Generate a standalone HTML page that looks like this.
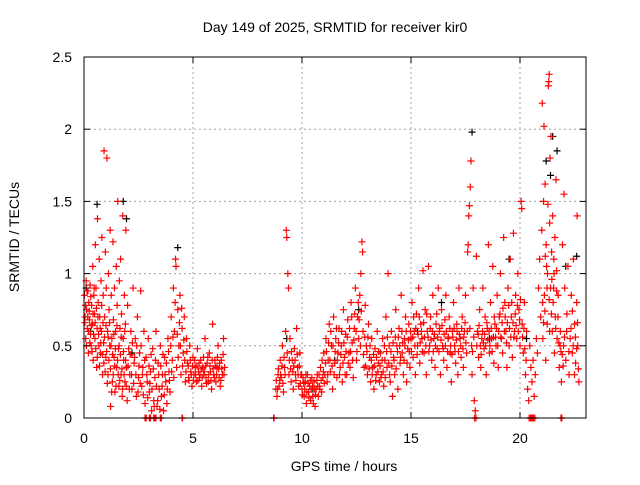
<!DOCTYPE html>
<html><head><meta charset="utf-8"><style>
body{margin:0;background:#fff;font-family:"Liberation Sans",sans-serif}
svg text{font-family:"Liberation Sans",sans-serif;font-size:14px;fill:#000}
</style></head><body>
<svg width="640" height="480" xmlns="http://www.w3.org/2000/svg">
<rect width="640" height="480" fill="#fff"/>
<g id="grid"></g>
<g id="black"></g>
<g id="red"></g>
<rect x="84" y="57" width="502" height="361" fill="none" stroke="#000" stroke-width="1"/>
<g id="axes"></g>
<text x="335" y="32" text-anchor="middle">Day 149 of 2025, SRMTID for receiver kir0</text>
<text x="344" y="471" text-anchor="middle">GPS time / hours</text>
<text transform="translate(19,237) rotate(-90)" text-anchor="middle">SRMTID / TECUs</text>
</svg>
<script>
const xTicks=[0,5,10,15,20];
const yTicks=[0,0.5,1,1.5,2,2.5];
const yTickLabels=["0","0.5","1","1.5","2","2.5"];
const redPoints=[
[0.02,0.85],[0.05,0.7],[0.08,0.55],[0.1,0.95],[0.12,0.75],[0.15,0.62],[0.18,0.88],[0.2,0.45],[0.22,0.8],[0.25,0.68],[0.28,0.92],[0.3,0.58],[0.33,0.5],[0.35,0.78],[0.38,0.65],[0.4,1.05],[0.42,0.4],[0.45,0.85],[0.48,0.72],[0.5,0.55],[0.52,1.2],[0.55,0.9],[0.58,0.35],[0.6,0.62],[0.62,1.38],[0.65,0.8],[0.68,0.5],[0.7,1.1],[0.72,0.7],[0.75,0.45],[0.78,0.95],[0.8,0.6],[0.82,1.25],[0.85,0.3],[0.88,0.85],[0.9,0.52],[0.92,1.85],[0.95,0.7],[0.98,1.15],[1.0,0.42],[1.02,0.9],[1.05,1.8],[1.08,0.6],[1.1,0.3],[1.12,1.0],[1.15,0.75],[1.18,0.5],[1.2,1.3],[1.22,0.08],[1.25,0.85],[1.28,0.55],[1.3,0.25],[1.33,1.22],[1.35,0.68],[1.38,0.42],[1.4,0.9],[1.42,0.18],[1.45,0.6],[1.48,1.05],[1.5,0.35],[1.52,0.78],[1.55,1.5],[1.58,0.48],[1.6,0.22],[1.62,0.95],[1.65,0.62],[1.68,1.1],[1.7,0.3],[1.72,0.72],[1.75,0.15],[1.78,1.4],[1.8,0.55],[1.82,0.4],[1.85,0.85],[1.88,0.25],[1.9,0.65],[1.92,1.3],[1.95,0.35],[1.98,0.12],[2.0,0.78],[2.05,0.48],[2.1,0.3],[2.15,0.6],[2.2,0.2],[2.25,0.9],[2.3,0.38],[2.35,0.55],[2.4,0.15],[2.45,0.7],[2.5,0.28],[2.55,0.45],[2.6,0.88],[2.65,0.22],[2.7,0.35],[2.75,0.6],[2.8,0.1],[2.85,0.42],[2.9,0.25],[2.95,0.55],[3.0,0.18],[3.05,0.32],[3.1,0.05],[3.15,0.48],[3.2,0.12],[3.25,0.28],[3.3,0.6],[3.35,0.08],[3.4,0.38],[3.45,0.2],[3.5,0.5],[3.55,0.15],[3.6,0.3],[3.65,0.05],[3.7,0.42],[3.75,0.25],[3.8,0.1],[3.85,0.55],[3.9,0.32],[3.95,0.18],[4.0,0.7],[4.05,0.4],[4.1,0.9],[4.15,0.6],[4.2,1.1],[4.22,1.05],[4.25,0.35],[4.3,0.75],[4.35,0.5],[4.4,0.85],[4.45,0.3],[4.5,0.62],[4.55,0.45],[4.6,0.7],[4.65,0.25],[4.7,0.55],[4.75,0.38],[4.8,0.28],[4.85,0.5],[4.9,0.32],[4.95,0.22],[5.0,0.42],[5.05,0.3],[5.1,0.35],[5.15,0.25],[5.2,0.48],[5.25,0.32],[5.3,0.28],[5.35,0.4],[5.4,0.22],[5.45,0.35],[5.5,0.3],[5.55,0.55],[5.6,0.28],[5.65,0.38],[5.7,0.25],[5.75,0.45],[5.8,0.32],[5.85,0.2],[5.9,0.65],[5.95,0.3],[6.0,0.4],[6.05,0.25],[6.1,0.35],[6.15,0.5],[6.2,0.28],[6.25,0.22],[6.3,0.4],[6.35,0.3],[6.4,0.55],[6.45,0.35],
[8.8,0.2],[8.85,0.15],[8.9,0.3],[8.95,0.22],[9.0,0.4],[9.05,0.28],[9.1,0.5],[9.15,0.18],[9.2,0.35],[9.25,0.6],[9.28,1.3],[9.3,1.25],[9.32,0.45],[9.35,1.0],[9.38,0.9],[9.4,0.3],[9.45,0.55],[9.5,0.25],[9.55,0.4],[9.6,0.2],[9.65,0.48],[9.7,0.3],[9.75,0.62],[9.8,0.35],[9.85,0.22],[9.9,0.45],[9.95,0.3],[10.0,0.2],[10.05,0.28],[10.1,0.15],[10.15,0.25],[10.2,0.1],[10.25,0.3],[10.3,0.18],[10.35,0.22],[10.4,0.12],[10.45,0.28],[10.5,0.15],[10.55,0.25],[10.6,0.08],[10.65,0.2],[10.7,0.3],[10.75,0.15],[10.8,0.22],[10.85,0.35],[10.9,0.18],[10.95,0.28],[11.0,0.45],[11.05,0.3],[11.1,0.55],[11.15,0.25],[11.2,0.4],[11.25,0.65],[11.3,0.32],[11.35,0.5],[11.4,0.2],[11.45,0.7],[11.5,0.38],[11.55,0.55],[11.6,0.28],[11.65,0.45],[11.7,0.62],[11.75,0.35],[11.8,0.5],[11.85,0.25],[11.9,0.75],[11.95,0.42],[12.0,0.58],[12.05,0.3],[12.1,0.68],[12.15,0.45],[12.2,0.35],[12.25,0.8],[12.3,0.52],[12.35,0.28],[12.4,0.62],[12.45,0.9],[12.5,0.4],[12.55,0.7],[12.6,0.55],[12.65,0.85],[12.7,1.0],[12.75,1.22],[12.78,1.15],[12.8,0.6],[12.85,0.35],[12.9,0.78],[12.95,0.5],[13.0,0.3],[13.05,0.65],[13.1,0.42],[13.15,0.25],[13.2,0.55],[13.25,0.35],[13.3,0.2],[13.35,0.48],[13.4,0.3],[13.45,0.6],[13.5,0.38],[13.55,0.25],[13.6,0.45],[13.65,0.3],[13.7,0.55],[13.75,0.22],[13.8,0.4],[13.85,0.7],[13.9,0.35],[13.95,1.0],[14.0,0.5],[14.05,0.25],[14.1,0.6],[14.15,0.15],[14.2,0.42],[14.25,0.3],[14.3,0.75],[14.35,0.5],[14.4,0.2],[14.45,0.62],[14.5,0.38],[14.55,0.85],[14.6,0.45],[14.65,0.3],[14.7,0.55],[14.75,0.7],[14.8,0.25],[14.85,0.48],[14.9,0.65],[14.95,0.35],[15.0,0.55],[15.05,0.8],[15.1,0.42],[15.15,0.6],[15.2,0.3],[15.25,0.72],[15.3,0.5],[15.35,0.9],[15.4,0.38],[15.45,0.65],[15.5,0.55],[15.55,1.02],[15.6,0.45],[15.65,0.75],[15.7,0.3],[15.75,0.6],[15.8,1.05],[15.85,0.5],[15.9,0.7],[15.95,0.4],[16.0,0.85],[16.05,0.55],[16.1,0.35],[16.15,0.65],[16.2,0.48],[16.25,0.9],[16.3,0.6],[16.35,0.3],[16.4,0.75],[16.45,0.5],[16.5,0.4],[16.55,0.68],[16.6,0.85],[16.65,0.35],[16.7,0.55],[16.75,0.7],[16.8,0.45],[16.85,0.25],[16.9,0.6],[16.95,0.8],[17.0,0.5],[17.05,0.38],[17.1,0.65],[17.15,0.3],[17.2,0.9],[17.25,0.55],[17.3,0.42],[17.35,0.7],[17.4,0.35],[17.45,0.6],[17.5,0.85],[17.55,0.45],[17.6,1.15],[17.62,1.2],[17.65,1.4],[17.68,1.47],[17.7,0.62],[17.72,1.6],[17.75,1.78],[17.78,0.5],[17.8,0.3],[17.85,0.9],[17.9,0.12],[17.95,0.05],[18.0,1.12],[18.05,0.6],[18.1,0.42],[18.15,0.75],[18.2,0.35],[18.25,0.55],[18.3,0.9],[18.35,0.48],[18.4,0.7],[18.45,0.3],[18.5,0.62],[18.55,1.2],[18.6,0.45],[18.65,0.8],[18.7,0.55],[18.75,1.05],[18.8,0.38],[18.85,0.65],[18.9,0.5],[18.95,0.85],[19.0,0.35],[19.05,0.7],[19.1,1.0],[19.15,0.55],[19.2,0.45],[19.25,1.25],[19.3,0.8],[19.35,0.6],[19.4,0.35],[19.45,0.9],[19.5,0.5],[19.55,1.1],[19.6,0.7],[19.65,0.42],[19.7,1.28],[19.75,0.6],[19.8,0.85],[19.85,0.55],[19.9,1.0],[19.95,0.75],[20.0,0.5],[20.05,1.5],[20.08,1.45],[20.1,0.65],[20.15,0.45],[20.2,0.8],[20.25,0.3],[20.3,0.6],[20.35,0.2],[20.4,0.12],[20.45,0.5],[20.5,0.35],[20.55,0.25],[20.6,0.4],[20.65,0.15],[20.7,0.3],[20.75,0.55],[20.8,0.45],[20.85,0.9],[20.9,1.1],[20.95,0.7],[21.0,1.3],[21.02,2.18],[21.05,0.55],[21.08,1.5],[21.1,2.02],[21.12,0.85],[21.15,1.62],[21.18,0.4],[21.2,1.2],[21.22,1.05],[21.25,0.65],[21.28,1.48],[21.3,2.3],[21.32,2.33],[21.34,2.38],[21.36,1.35],[21.38,1.8],[21.4,0.9],[21.42,1.95],[21.45,1.15],[21.48,0.6],[21.5,1.4],[21.52,0.8],[21.55,1.1],[21.58,0.45],[21.6,1.25],[21.62,0.7],[21.65,1.65],[21.68,1.02],[21.7,0.55],[21.75,0.85],[21.8,0.35],[21.85,0.6],[21.9,0.25],[21.95,1.2],[22.0,0.5],[22.02,1.55],[22.05,0.9],[22.1,0.4],[22.15,0.72],[22.2,1.05],[22.25,0.3],[22.3,0.55],[22.35,0.85],[22.4,0.45],[22.45,1.1],[22.5,0.65],[22.55,0.38],[22.6,0.8],[22.62,1.4],[22.65,0.5],[22.7,0.25]
];
const redPointsDense=[
[0.04,0.66],[0.07,0.78],[0.11,0.5],[0.14,0.88],[0.17,0.7],[0.21,0.6],[0.24,0.74],[0.27,0.52],[0.31,0.84],[0.34,0.64],[0.37,0.46],[0.41,0.72],[0.44,0.58],[0.47,0.9],[0.51,0.66],[0.54,0.48],[0.57,0.76],[0.61,0.42],[0.64,0.7],[0.67,0.58],[0.71,0.36],[0.74,0.62],[0.77,0.52],[0.81,0.78],[0.84,0.44],[0.87,0.66],[0.91,0.38],[0.94,0.56],[0.97,0.32],[1.01,0.64],[1.04,0.46],[1.07,0.24],[1.11,0.56],[1.14,0.4],[1.17,0.66],[1.21,0.34],[1.24,0.5],[1.27,0.18],[1.31,0.44],[1.34,0.3],[1.37,0.58],[1.41,0.36],[1.44,0.48],[1.47,0.22],[1.51,0.64],[1.54,0.4],[1.57,0.3],[1.61,0.5],[1.64,0.26],[1.67,0.44],[1.71,0.56],[1.74,0.34],[1.77,0.2],[1.81,0.46],[1.84,0.3],[1.87,0.6],[1.91,0.4],[1.94,0.22],[2.02,0.36],[2.08,0.2],[2.12,0.44],[2.18,0.3],[2.22,0.52],[2.28,0.24],[2.32,0.42],[2.38,0.3],[2.42,0.5],[2.48,0.18],[2.52,0.36],[2.58,0.24],[2.62,0.5],[2.68,0.3],[2.72,0.16],[2.78,0.4],[2.88,0.3],[2.92,0.14],[2.98,0.36],[3.02,0.24],[3.08,0.44],[3.12,0.2],[3.18,0.34],[3.22,0.08],[3.28,0.4],[3.32,0.22],[3.38,0.12],[3.42,0.3],[3.48,0.06],[3.52,0.36],[3.58,0.22],[3.62,0.44],[3.68,0.16],[3.72,0.3],[3.78,0.38],[3.82,0.2],[3.88,0.46],[3.92,0.26],[3.98,0.5],[4.02,0.32],[4.08,0.56],[4.12,0.28],[4.18,0.8],[4.28,0.58],[4.32,0.42],[4.38,0.66],[4.42,0.5],[4.48,0.76],[4.52,0.36],[4.58,0.54],[4.62,0.4],[4.68,0.32],[4.72,0.46],[4.78,0.36],[4.82,0.26],[4.88,0.4],[4.92,0.3],[4.98,0.36],[5.02,0.26],[5.08,0.4],[5.12,0.3],[5.18,0.36],[5.22,0.26],[5.28,0.38],[5.32,0.3],[5.38,0.34],[5.42,0.28],[5.48,0.42],[5.52,0.32],[5.58,0.36],[5.62,0.24],[5.68,0.42],[5.72,0.3],[5.78,0.36],[5.82,0.26],[5.88,0.4],[5.92,0.34],[5.98,0.28],[6.02,0.36],[6.08,0.3],[6.12,0.42],[6.18,0.34],[6.22,0.38],[6.28,0.26],[6.32,0.34],[6.38,0.44],[6.42,0.3],
[8.82,0.26],[8.88,0.2],[8.92,0.34],[8.98,0.26],[9.02,0.3],[9.08,0.36],[9.12,0.24],[9.18,0.42],[9.22,0.3],[9.42,0.4],[9.48,0.34],[9.52,0.46],[9.58,0.32],[9.62,0.36],[9.68,0.4],[9.72,0.26],[9.78,0.44],[9.82,0.3],[9.88,0.36],[9.92,0.24],[9.98,0.3],[10.02,0.16],[10.08,0.24],[10.12,0.2],[10.18,0.3],[10.22,0.18],[10.28,0.24],[10.32,0.14],[10.38,0.26],[10.42,0.2],[10.48,0.22],[10.52,0.1],[10.58,0.2],[10.62,0.16],[10.68,0.26],[10.72,0.22],[10.78,0.3],[10.82,0.2],[10.88,0.26],[10.92,0.4],[10.98,0.32],[11.02,0.24],[11.08,0.38],[11.12,0.46],[11.18,0.3],[11.22,0.52],[11.28,0.4],[11.32,0.6],[11.38,0.36],[11.42,0.5],[11.48,0.3],[11.52,0.46],[11.58,0.62],[11.62,0.4],[11.68,0.52],[11.72,0.3],[11.78,0.44],[11.82,0.6],[11.88,0.38],[11.92,0.52],[11.98,0.3],[12.02,0.46],[12.08,0.56],[12.12,0.38],[12.18,0.62],[12.22,0.46],[12.28,0.7],[12.32,0.4],[12.38,0.54],[12.42,0.72],[12.48,0.6],[12.52,0.46],[12.58,0.8],[12.62,0.68],[12.68,0.5],[12.72,0.74],[12.82,0.44],[12.88,0.56],[12.92,0.36],[12.98,0.46],[13.02,0.56],[13.08,0.34],[13.12,0.5],[13.18,0.4],[13.22,0.3],[13.28,0.44],[13.32,0.36],[13.38,0.26],[13.42,0.42],[13.48,0.32],[13.52,0.46],[13.58,0.36],[13.62,0.28],[13.68,0.4],[13.72,0.32],[13.78,0.5],[13.82,0.28],[13.88,0.46],[13.92,0.56],[13.98,0.38],[14.02,0.3],[14.08,0.46],[14.12,0.36],[14.18,0.52],[14.22,0.4],[14.28,0.56],[14.32,0.34],[14.38,0.46],[14.42,0.56],[14.48,0.5],[14.52,0.42],[14.58,0.6],[14.62,0.52],[14.68,0.4],[14.72,0.5],[14.78,0.6],[14.82,0.38],[14.88,0.54],[14.92,0.46],[14.98,0.6],[15.02,0.46],[15.08,0.56],[15.12,0.7],[15.18,0.5],[15.22,0.62],[15.28,0.44],[15.32,0.58],[15.38,0.7],[15.42,0.52],[15.48,0.6],[15.52,0.46],[15.58,0.66],[15.62,0.56],[15.68,0.5],[15.72,0.72],[15.78,0.56],[15.82,0.46],[15.88,0.62],[15.92,0.54],[15.98,0.6],[16.02,0.46],[16.08,0.58],[16.12,0.5],[16.18,0.72],[16.22,0.56],[16.28,0.46],[16.32,0.62],[16.38,0.54],[16.42,0.64],[16.48,0.48],[16.52,0.58],[16.58,0.5],[16.62,0.6],[16.68,0.46],[16.72,0.56],[16.78,0.62],[16.82,0.5],[16.88,0.44],[16.92,0.56],[16.98,0.62],[17.02,0.46],[17.08,0.54],[17.12,0.6],[17.18,0.46],[17.22,0.58],[17.28,0.5],[17.32,0.62],[17.38,0.48],[17.42,0.56],[17.48,0.66],[17.52,0.52],[17.58,0.6],[17.82,0.46],[17.88,0.56],[18.02,0.5],[18.08,0.58],[18.12,0.64],[18.18,0.5],[18.22,0.44],[18.28,0.6],[18.32,0.52],[18.38,0.58],[18.42,0.5],[18.48,0.66],[18.52,0.54],[18.58,0.6],[18.62,0.5],[18.68,0.62],[18.72,0.46],[18.78,0.56],[18.82,0.7],[18.88,0.56],[18.92,0.62],[18.98,0.5],[19.02,0.6],[19.08,0.72],[19.12,0.56],[19.18,0.66],[19.22,0.76],[19.28,0.6],[19.32,0.7],[19.38,0.52],[19.42,0.66],[19.48,0.78],[19.52,0.62],[19.58,0.56],[19.62,0.8],[19.68,0.66],[19.72,0.56],[19.78,0.72],[19.82,0.64],[19.88,0.78],[19.92,0.6],[19.98,0.68],[20.02,0.82],[20.12,0.56],[20.18,0.62],[20.22,0.48],[20.28,0.4],[21.08,0.66],[21.14,0.74],[21.24,0.9],[21.34,0.82],[21.44,0.72],[21.54,0.9],[21.64,0.62],[21.74,0.7],[21.84,0.5],[21.94,0.44],[22.04,0.56],[22.14,0.6],[22.24,0.46],[22.34,0.62],[22.44,0.5],[22.54,0.56],[22.64,0.66],[22.68,0.34],[22.6,0.48],[22.5,0.3],[22.4,0.74],[21.98,0.36],[21.88,0.46],[21.78,0.52],[21.68,0.88],[21.56,1.0],[21.46,0.96],[21.36,0.6],[21.26,1.0],[21.16,1.12],[21.04,0.8],
[2.8,0],[2.85,0],[3.0,0],[3.05,0],[3.2,0],[3.25,0],[3.3,0],[3.5,0],[3.55,0],[4.5,0],[4.52,0],[8.7,0],[8.72,0],[17.92,0],[17.98,0],[20.42,0],[20.48,0],[20.52,0],[20.58,0],[20.62,0],[20.68,0],[21.88,0],[21.92,0]
];
const blackPoints=[[0.1,0.9],[0.6,1.48],[1.8,1.5],[1.95,1.38],[0.3,0.6],[2.2,0.45],[4.3,1.18],[5.5,0.3],[9.3,0.55],[10.5,0.2],[12.6,0.75],[15.3,0.6],[17.8,1.98],[18.6,0.55],[19.5,1.1],[20.3,0.55],[21.2,1.78],[21.5,1.95],[21.7,1.85],[21.4,1.68],[22.1,1.05],[22.6,1.12],[16.4,0.8],[11.5,0.4]];
const NS="http://www.w3.org/2000/svg";
const X0=84,X1=586,Y0=418,Y1=57;
const xs=h=>X0+h*(520-84)/20;
const ys=v=>Y0-v*(Y0-Y1)/2.5;
function mk(tag,attrs,parent){const e=document.createElementNS(NS,tag);for(const k in attrs)e.setAttribute(k,attrs[k]);parent.appendChild(e);return e;}
const grid=document.getElementById('grid'),axes=document.getElementById('axes');
xTicks.forEach(t=>{const x=xs(t);
 if(t>0){const g=mk('line',{x1:x,x2:x,y1:Y1,y2:Y0,stroke:'#a0a0a0','stroke-dasharray':'2,3'},grid);
 
 }
 mk('line',{x1:x,x2:x,y1:Y0,y2:Y0-6,stroke:'#000'},axes);
 mk('line',{x1:x,x2:x,y1:Y1,y2:Y1+6,stroke:'#000'},axes);
 const l=mk('text',{x:x,y:443,'text-anchor':'middle'},axes);l.textContent=t;
 
 });
yTicks.forEach((t,i)=>{const y=ys(t);
 if(t>0&&t<2.5){const g=mk('line',{x1:X0,x2:X1,y1:y,y2:y,stroke:'#a0a0a0','stroke-dasharray':'2,3'},grid);
 
 }
 mk('line',{x1:X0,x2:X0+6,y1:y,y2:y,stroke:'#000'},axes);
 mk('line',{x1:X1,x2:X1-6,y1:y,y2:y,stroke:'#000'},axes);
 const l=mk('text',{x:72,y:y+5,'text-anchor':'end'},axes);l.textContent=yTickLabels[i];
 
 });
function plus(pts,g,col){pts.forEach(p=>{const x=xs(p[0]),y=ys(p[1]);
 const e=mk('path',{d:`M${x-3.5},${y}h7M${x},${y-3.5}v7`,stroke:col,'stroke-width':1.2,fill:'none'},g);
 
 });}
plus(blackPoints,document.getElementById('black'),'#000');
plus(redPoints,document.getElementById('red'),'#f00');
plus(redPointsDense,document.getElementById('red'),'#f00');
</script>
</body></html>
